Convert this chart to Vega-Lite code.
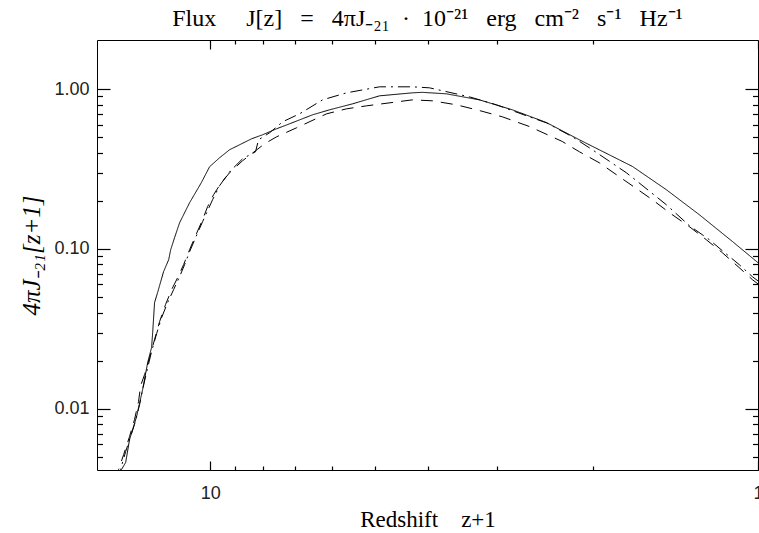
{
  "$schema": "https://vega.github.io/schema/vega-lite/v6.json",
  "autosize": "none",
  "width": 661,
  "height": 430,
  "padding": {"left": 97, "top": 40, "right": 1, "bottom": 63},
  "background": "white",
  "title": {"text": "Flux\u00a0\u00a0\u00a0\u00a0\u00a0J[z]\u00a0\u00a0\u00a0=\u00a0\u00a0\u00a04πJ₋₂₁\u00a0\u00a0·\u00a0\u00a010⁻²¹\u00a0\u00a0\u00a0erg\u00a0\u00a0\u00a0cm⁻²\u00a0\u00a0\u00a0s⁻¹\u00a0\u00a0\u00a0Hz⁻¹", "font": "Liberation Serif", "fontSize": 24, "fontWeight": "normal", "color": "black", "offset": 8, "anchor": "middle"},
  "config": {
    "view": {"stroke": "black", "strokeWidth": 1},
    "axis": {"domain": false, "grid": false, "ticks": true, "tickColor": "black", "tickOpacity": 1, "tickWidth": 1.2, "zindex": 2, "labelFont": "Liberation Sans", "labelFontSize": 18, "labelColor": "#222", "titleFont": "Liberation Serif", "titleFontSize": 23, "titleFontWeight": "normal", "titleColor": "black", "labelFlush": false, "labelOverlap": false}
  },
  "data": {"values": [
    {"series": "solid", "zp1": 14.83, "J": 0.003614},
    {"series": "solid", "zp1": 14.52, "J": 0.004175},
    {"series": "solid", "zp1": 14.27, "J": 0.004618},
    {"series": "solid", "zp1": 14.04, "J": 0.006428},
    {"series": "solid", "zp1": 13.63, "J": 0.008953},
    {"series": "solid", "zp1": 13.29, "J": 0.0132},
    {"series": "solid", "zp1": 13.01, "J": 0.01948},
    {"series": "solid", "zp1": 12.8, "J": 0.02415},
    {"series": "solid", "zp1": 12.74, "J": 0.02998},
    {"series": "solid", "zp1": 12.64, "J": 0.04618},
    {"series": "solid", "zp1": 12.48, "J": 0.05331},
    {"series": "solid", "zp1": 12.17, "J": 0.07213},
    {"series": "solid", "zp1": 11.91, "J": 0.08573},
    {"series": "solid", "zp1": 11.81, "J": 0.09899},
    {"series": "solid", "zp1": 11.62, "J": 0.1177},
    {"series": "solid", "zp1": 11.376, "J": 0.146},
    {"series": "solid", "zp1": 10.908, "J": 0.1948},
    {"series": "solid", "zp1": 10.385, "J": 0.2597},
    {"series": "solid", "zp1": 10.03, "J": 0.3268},
    {"series": "solid", "zp1": 9.617, "J": 0.3721},
    {"series": "solid", "zp1": 9.222, "J": 0.4175},
    {"series": "solid", "zp1": 8.842, "J": 0.4486},
    {"series": "solid", "zp1": 8.407, "J": 0.489},
    {"series": "solid", "zp1": 8.027, "J": 0.518},
    {"series": "solid", "zp1": 7.568, "J": 0.5648},
    {"series": "solid", "zp1": 7.166, "J": 0.6069},
    {"series": "solid", "zp1": 6.507, "J": 0.6906},
    {"series": "solid", "zp1": 6.057, "J": 0.7423},
    {"series": "solid", "zp1": 5.499, "J": 0.8091},
    {"series": "solid", "zp1": 4.909, "J": 0.9081},
    {"series": "solid", "zp1": 4.274, "J": 0.9482},
    {"series": "solid", "zp1": 4.099, "J": 0.955},
    {"series": "solid", "zp1": 3.705, "J": 0.9346},
    {"series": "solid", "zp1": 3.226, "J": 0.8571},
    {"series": "solid", "zp1": 2.808, "J": 0.7423},
    {"series": "solid", "zp1": 2.434, "J": 0.6182},
    {"series": "solid", "zp1": 2.119, "J": 0.4821},
    {"series": "solid", "zp1": 1.949, "J": 0.4175},
    {"series": "solid", "zp1": 1.695, "J": 0.3282},
    {"series": "solid", "zp1": 1.47, "J": 0.2348},
    {"series": "solid", "zp1": 1.2797, "J": 0.1638},
    {"series": "solid", "zp1": 1.114, "J": 0.1115},
    {"series": "solid", "zp1": 1.007, "J": 0.0837},
    {"series": "solid", "zp1": 0.98, "J": 0.0773},
    {"series": "dashed", "zp1": 15.01, "J": 0.003614},
    {"series": "dashed", "zp1": 14.7, "J": 0.004175},
    {"series": "dashed", "zp1": 14.39, "J": 0.005182},
    {"series": "dashed", "zp1": 14.04, "J": 0.006712},
    {"series": "dashed", "zp1": 13.75, "J": 0.008573},
    {"series": "dashed", "zp1": 13.52, "J": 0.0111},
    {"series": "dashed", "zp1": 13.4, "J": 0.01398},
    {"series": "dashed", "zp1": 13.18, "J": 0.01638},
    {"series": "dashed", "zp1": 12.91, "J": 0.02092},
    {"series": "dashed", "zp1": 12.64, "J": 0.0271},
    {"series": "dashed", "zp1": 12.375, "J": 0.03512},
    {"series": "dashed", "zp1": 12.07, "J": 0.04486},
    {"series": "dashed", "zp1": 11.765, "J": 0.05566},
    {"series": "dashed", "zp1": 11.47, "J": 0.06615},
    {"series": "dashed", "zp1": 11.187, "J": 0.07978},
    {"series": "dashed", "zp1": 10.908, "J": 0.09899},
    {"series": "dashed", "zp1": 10.637, "J": 0.1211},
    {"series": "dashed", "zp1": 10.329, "J": 0.1525},
    {"series": "dashed", "zp1": 10.114, "J": 0.1838},
    {"series": "dashed", "zp1": 9.862, "J": 0.2185},
    {"series": "dashed", "zp1": 9.577, "J": 0.2559},
    {"series": "dashed", "zp1": 9.222, "J": 0.2998},
    {"series": "dashed", "zp1": 8.731, "J": 0.3563},
    {"series": "dashed", "zp1": 8.268, "J": 0.4115},
    {"series": "dashed", "zp1": 7.96, "J": 0.4551},
    {"series": "dashed", "zp1": 7.568, "J": 0.5032},
    {"series": "dashed", "zp1": 6.959, "J": 0.573},
    {"series": "dashed", "zp1": 6.134, "J": 0.7006},
    {"series": "dashed", "zp1": 5.64, "J": 0.753},
    {"series": "dashed", "zp1": 5.185, "J": 0.7862},
    {"series": "dashed", "zp1": 4.274, "J": 0.8571},
    {"series": "dashed", "zp1": 3.929, "J": 0.8451},
    {"series": "dashed", "zp1": 3.552, "J": 0.7977},
    {"series": "dashed", "zp1": 3.226, "J": 0.7349},
    {"series": "dashed", "zp1": 2.929, "J": 0.6711},
    {"series": "dashed", "zp1": 2.615, "J": 0.5839},
    {"series": "dashed", "zp1": 2.277, "J": 0.4705},
    {"series": "dashed", "zp1": 2.119, "J": 0.4057},
    {"series": "dashed", "zp1": 1.949, "J": 0.3463},
    {"series": "dashed", "zp1": 1.791, "J": 0.283},
    {"series": "dashed", "zp1": 1.559, "J": 0.2033},
    {"series": "dashed", "zp1": 1.451, "J": 0.1686},
    {"series": "dashed", "zp1": 1.334, "J": 0.1378},
    {"series": "dashed", "zp1": 1.243, "J": 0.1143},
    {"series": "dashed", "zp1": 1.162, "J": 0.09482},
    {"series": "dashed", "zp1": 1.082, "J": 0.07639},
    {"series": "dashed", "zp1": 1.024, "J": 0.0643},
    {"series": "dashed", "zp1": 0.98, "J": 0.05731},
    {"series": "dashdot", "zp1": 14.89, "J": 0.003614},
    {"series": "dashdot", "zp1": 14.58, "J": 0.004175},
    {"series": "dashdot", "zp1": 14.27, "J": 0.005408},
    {"series": "dashdot", "zp1": 13.98, "J": 0.006712},
    {"series": "dashdot", "zp1": 13.75, "J": 0.007978},
    {"series": "dashdot", "zp1": 13.46, "J": 0.01063},
    {"series": "dashdot", "zp1": 13.29, "J": 0.0132},
    {"series": "dashdot", "zp1": 13.01, "J": 0.01811},
    {"series": "dashdot", "zp1": 12.8, "J": 0.02281},
    {"series": "dashdot", "zp1": 12.53, "J": 0.02955},
    {"series": "dashdot", "zp1": 12.27, "J": 0.0372},
    {"series": "dashdot", "zp1": 11.965, "J": 0.04618},
    {"series": "dashdot", "zp1": 11.667, "J": 0.05566},
    {"series": "dashdot", "zp1": 11.376, "J": 0.06711},
    {"series": "dashdot", "zp1": 11.14, "J": 0.07978},
    {"series": "dashdot", "zp1": 10.908, "J": 0.09618},
    {"series": "dashdot", "zp1": 10.637, "J": 0.1177},
    {"series": "dashdot", "zp1": 10.329, "J": 0.1482},
    {"series": "dashdot", "zp1": 9.904, "J": 0.2033},
    {"series": "dashdot", "zp1": 9.617, "J": 0.2487},
    {"series": "dashdot", "zp1": 9.222, "J": 0.3041},
    {"series": "dashdot", "zp1": 8.731, "J": 0.3667},
    {"series": "dashdot", "zp1": 8.268, "J": 0.4057},
    {"series": "dashdot", "zp1": 8.164, "J": 0.4821},
    {"series": "dashdot", "zp1": 7.794, "J": 0.5331},
    {"series": "dashdot", "zp1": 7.381, "J": 0.6245},
    {"series": "dashdot", "zp1": 6.872, "J": 0.7006},
    {"series": "dashdot", "zp1": 6.237, "J": 0.8571},
    {"series": "dashdot", "zp1": 5.64, "J": 0.9482},
    {"series": "dashdot", "zp1": 4.909, "J": 1.034},
    {"series": "dashdot", "zp1": 4.274, "J": 1.034},
    {"series": "dashdot", "zp1": 3.979, "J": 1.019},
    {"series": "dashdot", "zp1": 3.364, "J": 0.8952},
    {"series": "dashdot", "zp1": 3.002, "J": 0.7977},
    {"series": "dashdot", "zp1": 2.615, "J": 0.6711},
    {"series": "dashdot", "zp1": 2.434, "J": 0.6158},
    {"series": "dashdot", "zp1": 2.182, "J": 0.5032},
    {"series": "dashdot", "zp1": 2.006, "J": 0.4175},
    {"series": "dashdot", "zp1": 1.739, "J": 0.2998},
    {"series": "dashdot", "zp1": 1.667, "J": 0.2673},
    {"series": "dashdot", "zp1": 1.47, "J": 0.1891},
    {"series": "dashdot", "zp1": 1.334, "J": 0.1398},
    {"series": "dashdot", "zp1": 1.227, "J": 0.1143},
    {"series": "dashdot", "zp1": 1.162, "J": 0.09758},
    {"series": "dashdot", "zp1": 1.082, "J": 0.07978},
    {"series": "dashdot", "zp1": 1.024, "J": 0.06711},
    {"series": "dashdot", "zp1": 0.98, "J": 0.05982}
  ]},
  "layer": [
    {
      "mark": {"type": "line", "clip": true, "strokeWidth": 1, "color": "black"},
      "encoding": {
        "x": {"field": "zp1", "type": "quantitative", "scale": {"type": "log", "domain": [1, 16.1], "reverse": true, "nice": false}, "axis": {"orient": "bottom", "values": [10, 1], "format": "d", "ticks": true, "tickSize": 9, "offset": -9, "labelPadding": 14, "title": "Redshift\u00a0\u00a0\u00a0\u00a0z+1", "titlePadding": 6}},
        "y": {"field": "J", "type": "quantitative", "scale": {"type": "log", "domain": [0.00414, 2.03], "nice": false}, "axis": {"orient": "left", "values": [1, 0.1, 0.01], "format": ".2f", "ticks": true, "tickSize": 13, "offset": -13, "labelPadding": 8, "title": "4πJ₋₂₁[z+1]", "titleFontStyle": "italic", "titleFontSize": 25, "titlePadding": 9}},
        "order": {"field": "zp1", "type": "quantitative", "sort": "descending"},
        "strokeDash": {"field": "series", "type": "nominal", "scale": {"domain": ["solid", "dashed", "dashdot"], "range": [[1, 0], [12, 8], [12, 5, 2, 5]]}, "legend": null}
      }
    },
    {
      "mark": {"type": "point", "opacity": 0, "clip": true},
      "encoding": {
        "x": {"field": "zp1", "type": "quantitative", "scale": {"type": "log", "domain": [1, 16.1], "reverse": true, "nice": false}, "axis": {"orient": "bottom", "values": [9, 8, 7, 6, 5, 4, 3, 2], "labels": false, "ticks": true, "tickSize": 4, "offset": -4, "title": null}},
        "y": {"field": "J", "type": "quantitative", "scale": {"type": "log", "domain": [0.00414, 2.03], "nice": false}, "axis": {"orient": "left", "values": [0.9, 0.8, 0.7, 0.6, 0.5, 0.4, 0.3, 0.2, 0.09, 0.08, 0.07, 0.06, 0.05, 0.04, 0.03, 0.02, 0.009, 0.008, 0.007, 0.006, 0.005], "labels": false, "ticks": true, "tickSize": 5.5, "offset": -5.5, "title": null}}
      }
    },
    {
      "mark": {"type": "point", "opacity": 0, "clip": true},
      "encoding": {
        "x": {"field": "zp1", "type": "quantitative", "scale": {"type": "log", "domain": [1, 16.1], "reverse": true, "nice": false}, "axis": {"orient": "top", "values": [10, 1], "labels": false, "ticks": true, "tickSize": 9, "offset": -9, "title": null}},
        "y": {"field": "J", "type": "quantitative", "scale": {"type": "log", "domain": [0.00414, 2.03], "nice": false}, "axis": {"orient": "right", "values": [1, 0.1, 0.01], "labels": false, "ticks": true, "tickSize": 13, "offset": -13, "title": null}}
      }
    },
    {
      "mark": {"type": "point", "opacity": 0, "clip": true},
      "encoding": {
        "x": {"field": "zp1", "type": "quantitative", "scale": {"type": "log", "domain": [1, 16.1], "reverse": true, "nice": false}, "axis": {"orient": "top", "values": [9, 8, 7, 6, 5, 4, 3, 2], "labels": false, "ticks": true, "tickSize": 4, "offset": -4, "title": null}},
        "y": {"field": "J", "type": "quantitative", "scale": {"type": "log", "domain": [0.00414, 2.03], "nice": false}, "axis": {"orient": "right", "values": [0.9, 0.8, 0.7, 0.6, 0.5, 0.4, 0.3, 0.2, 0.09, 0.08, 0.07, 0.06, 0.05, 0.04, 0.03, 0.02, 0.009, 0.008, 0.007, 0.006, 0.005], "labels": false, "ticks": true, "tickSize": 5.5, "offset": -5.5, "title": null}}
      }
    }
  ],
  "resolve": {"axis": {"x": "independent", "y": "independent"}}
}
